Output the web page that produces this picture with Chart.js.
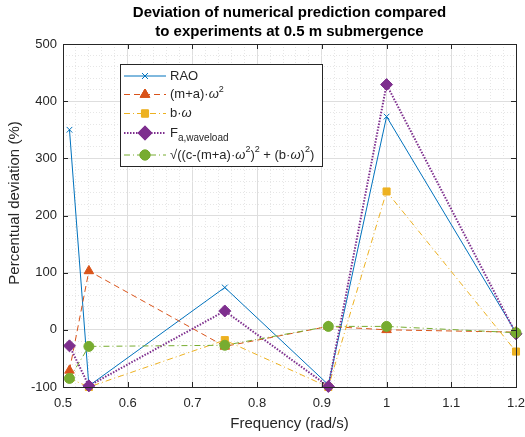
<!DOCTYPE html>
<html>
<head>
<meta charset="utf-8">
<script src="https://cdn.jsdelivr.net/npm/chart.js@4.4.0/dist/chart.umd.min.js"></script>
<style>
  html, body { margin: 0; padding: 0; background: #fff; }
  #wrap { width: 525px; height: 437px; }
</style>
</head>
<body>
<div id="wrap"><canvas id="myChart" width="525" height="437"></canvas></div>
<script>
// frequencies (rad/s)
const freq = [0.51, 0.54, 0.75, 0.91, 1.0, 1.2];
// percentual deviation per quantity
const rao = [350, -98, 74, -96, 373, -5];
const massTerm = [-71, 103, -29, 6, 0, -4];
const dampTerm = [-85, -100, -18, -100, 242, -38];
const waveLoad = [-28, -98, 33, -99, 429, -7];
const combined = [-85, -29, -27, 6, 6, -5];

const titleLines = ['Deviation of numerical prediction compared', 'to experiments at 0.5 m submergence'];
const xTitle = 'Frequency (rad/s)';
const yTitle = 'Percentual deviation (%)';

const textCol = '#262626';
const fontFam = '"Liberation Sans", Arial, Helvetica, sans-serif';

const pts = arr => arr.map((v, i) => ({ x: freq[i], y: v }));

function isMajorX(v) { return Math.abs(v * 10 - Math.round(v * 10)) < 1e-6; }
function isMajorY(v) { return Math.abs(v / 100 - Math.round(v / 100)) < 1e-6; }

const series = [
  { label: 'RAO', data: rao, color: '#0072BD', dash: [], style: 'crossRot', r: 4, w: 1 },
  { label: 'mass', data: massTerm, color: '#D95319', dash: [6, 4], style: 'triangle', r: 5.5, w: 1 },
  { label: 'damp', data: dampTerm, color: '#EDB120', dash: [6, 3, 1, 3], style: 'rect', r: 5, w: 1 },
  { label: 'wave', data: waveLoad, color: '#7E2F8E', dash: [1.5, 1.5], style: 'rectRot', r: 6, w: 2 },
  { label: 'comb', data: combined, color: '#77AC30', dash: [6, 3, 1, 3], style: 'circle', r: 5, w: 1 }
];

// legend rows: pieces of text [text, kind]
const legendRows = [
  [['RAO', 'n']],
  [['(m+a)·', 'n'], ['ω', 'i'], ['2', 'sup']],
  [['b·', 'n'], ['ω', 'i']],
  [['F', 'n'], ['a,waveload', 'sub']],
  [['√((c-(m+a)·', 'n'], ['ω', 'i'], ['2', 'sup'], [')', 'n'], ['2', 'sup'], [' + (b·', 'n'], ['ω', 'i'], [')', 'n'], ['2', 'sup'], [')', 'n']]
];

const frame = {
  id: 'frame',
  afterDraw(chart) {
    const ctx = chart.ctx;
    const a = chart.chartArea;
    const xs = chart.scales.x, ys = chart.scales.y;
    ctx.save();
    ctx.strokeStyle = textCol;
    ctx.lineWidth = 1;
    ctx.setLineDash([]);
    ctx.strokeRect(Math.round(a.left) + 0.5, Math.round(a.top) + 0.5, Math.round(a.right - a.left), Math.round(a.bottom - a.top));
    // inward tick marks
    ctx.beginPath();
    for (let v = 0.5; v <= 1.2001; v += 0.1) {
      const x = Math.round(xs.getPixelForValue(v)) + 0.5;
      ctx.moveTo(x, a.bottom); ctx.lineTo(x, a.bottom - 5);
      ctx.moveTo(x, a.top); ctx.lineTo(x, a.top + 5);
    }
    for (let v = -100; v <= 500; v += 100) {
      const y = Math.round(ys.getPixelForValue(v)) + 0.5;
      ctx.moveTo(a.left, y); ctx.lineTo(a.left + 5, y);
      ctx.moveTo(a.right, y); ctx.lineTo(a.right - 5, y);
    }
    ctx.stroke();

    // y axis title
    ctx.save();
    ctx.translate(15, 203);
    ctx.rotate(-Math.PI / 2);
    ctx.fillStyle = textCol;
    ctx.font = '15px ' + fontFam;
    ctx.textAlign = 'center';
    ctx.textBaseline = 'middle';
    ctx.fillText(yTitle, 0, 0);
    ctx.restore();

    // legend
    const bx = a.left + 57, by = a.top + 20, bw = 202, bh = 102;
    ctx.fillStyle = '#fff';
    ctx.fillRect(bx, by, bw, bh);
    ctx.strokeStyle = textCol;
    ctx.strokeRect(bx + 0.5, by + 0.5, bw, bh);
    const rowY = [12, 30.5, 49.5, 69, 91];
    series.forEach((s, i) => {
      const y = by + rowY[i];
      ctx.save();
      ctx.strokeStyle = s.color;
      ctx.lineWidth = s.w;
      ctx.setLineDash(s.dash);
      ctx.beginPath();
      ctx.moveTo(bx + 4, y); ctx.lineTo(bx + 46, y);
      ctx.stroke();
      ctx.setLineDash([]);
      Chart.helpers.drawPoint(ctx, {
        pointStyle: s.style, radius: s.r, rotation: 0, borderWidth: 1
      }, bx + 25, y);
      ctx.fillStyle = s.color;
      ctx.fill();
      ctx.stroke();
      ctx.restore();
      let x = bx + 50;
      ctx.fillStyle = textCol;
      ctx.textBaseline = 'middle';
      legendRows[i].forEach(([t, k]) => {
        let dy = 0;
        if (k === 'n') ctx.font = '13px ' + fontFam;
        if (k === 'i') ctx.font = 'italic 13px ' + fontFam;
        if (k === 'sup') { ctx.font = '9px ' + fontFam; dy = -5; }
        if (k === 'sub') { ctx.font = '10px ' + fontFam; dy = 5; }
        ctx.fillText(t, x, y + dy);
        x += ctx.measureText(t).width;
      });
    });
    ctx.restore();
  }
};

const canvas = document.getElementById('myChart');
const myChart = new Chart(canvas.getContext('2d'), {
  type: 'line',
  data: {
    datasets: series.map((s, i) => ({
      label: s.label,
      data: pts(s.data),
      borderColor: s.color,
      backgroundColor: s.color,
      borderWidth: s.w,
      borderDash: s.dash,
      pointStyle: s.style,
      pointRadius: s.r,
      pointBorderWidth: 1,
      pointBackgroundColor: s.color,
      pointBorderColor: s.color,
      tension: 0,
      fill: false,
      clip: 10,
      order: series.length - i
    }))
  },
  options: {
    responsive: false,
    animation: false,
    events: [],
    layout: { padding: { left: 0, right: 9, top: 0, bottom: 0 } },
    plugins: {
      legend: { display: false },
      tooltip: { enabled: false },
      title: {
        display: true,
        text: titleLines,
        fullSize: false,
        color: '#000',
        font: { family: fontFam, size: 15, weight: 'bold', lineHeight: 1.3 },
        padding: { top: 3, bottom: 2 }
      }
    },
    scales: {
      x: {
        type: 'linear',
        min: 0.5, max: 1.2,
        afterFit: s => { s.height = 50; s.paddingLeft = 0; s.paddingRight = 0; },
        ticks: {
          stepSize: 0.02,
          autoSkip: false,
          maxRotation: 0,
          color: textCol,
          padding: 9,
          font: { family: fontFam, size: 13 },
          callback: v => isMajorX(v) ? String(Math.round(v * 10) / 10) : ''
        },
        grid: {
          drawTicks: false,
          color: c => (c.tick && isMajorX(c.tick.value)) ? '#dedede' : '#e6e6e6'
        },
        border: {
          display: false,
          dash: c => (c.tick && isMajorX(c.tick.value)) ? [] : [1, 2]
        },
        title: {
          display: true, text: xTitle, color: textCol,
          font: { family: fontFam, size: 15 }, padding: { top: 3 }
        }
      },
      y: {
        min: -100, max: 500,
        afterFit: s => { s.width = 63; s.paddingTop = 0; s.paddingBottom = 0; },
        ticks: {
          stepSize: 20,
          autoSkip: false,
          color: textCol,
          padding: 6,
          font: { family: fontFam, size: 13 },
          callback: v => isMajorY(v) ? String(v) : ''
        },
        grid: {
          drawTicks: false,
          color: c => (c.tick && isMajorY(c.tick.value)) ? '#dedede' : '#e6e6e6'
        },
        border: {
          display: false,
          dash: c => (c.tick && isMajorY(c.tick.value)) ? [] : [1, 2]
        },
        title: { display: false }
      }
    }
  },
  plugins: [frame]
});
</script>
</body>
</html>
